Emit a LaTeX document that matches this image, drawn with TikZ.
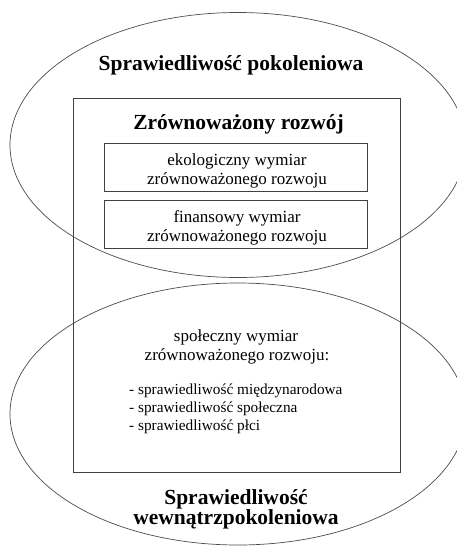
\documentclass[tikz,border=0pt]{standalone}
\usepackage{fontspec}
\setmainfont{Liberation Serif}
\usetikzlibrary{shapes.geometric}
\begin{document}
\begin{tikzpicture}[x=1pt, y=-1pt,
  frame/.style={draw=black!75, line width=0.9pt, inner sep=0pt},
  oval/.style={ellipse, draw=black!70, line width=0.7pt, inner sep=0pt},
  titletext/.style={font=\fontsize{21.5}{20}\selectfont\bfseries, anchor=base, inner sep=0pt},
  bodytext/.style={font=\fontsize{17}{19}\selectfont, anchor=base, inner sep=0pt},
  listtext/.style={font=\fontsize{15.3}{18}\selectfont, anchor=base west, inner sep=0pt}]
% canvas
\fill[white] (0,0) rectangle (456,546);
\useasboundingbox (0,0) rectangle (456,546);

% the two overlapping ellipses
\node[oval, minimum width=456pt, minimum height=265pt] (gen) at (238,145) {};
\node[oval, minimum width=456pt, minimum height=262pt] (intra) at (238,414) {};

% sustainable development frame and its inner boxes
\node[frame, minimum width=327pt, minimum height=374pt] (sd) at (236.5,285) {};
\node[frame, minimum width=263pt, minimum height=48pt] (eko) at (235.5,167) {};
\node[frame, minimum width=263pt, minimum height=48pt] (fin) at (235.5,224) {};

% titles
\node[titletext] (gentitle) at (231,70) {Sprawiedliwość pokoleniowa};
\node[titletext] (sdtitle) at (238.5,129) {Zrównoważony rozwój};
\node[titletext] (intratitleA) at (236,504) {Sprawiedliwość};
\node[titletext] (intratitleB) at (236,524) {wewnątrzpokoleniowa};

% box texts
\node[bodytext] (ekoA) at (237,165) {ekologiczny wymiar};
\node[bodytext] (ekoB) at (237,184) {zrównoważonego rozwoju};
\node[bodytext] (finA) at (237,222) {finansowy wymiar};
\node[bodytext] (finB) at (237,241) {zrównoważonego rozwoju};

% social dimension
\node[bodytext] (socA) at (236,341) {społeczny wymiar};
\node[bodytext] (socB) at (237,360) {zrównoważonego rozwoju:};
\node[listtext] (socC) at (129,394) {- sprawiedliwość międzynarodowa};
\node[listtext] (socD) at (129,412) {- sprawiedliwość społeczna};
\node[listtext] (socE) at (129,430) {- sprawiedliwość płci};
\end{tikzpicture}
\end{document}
